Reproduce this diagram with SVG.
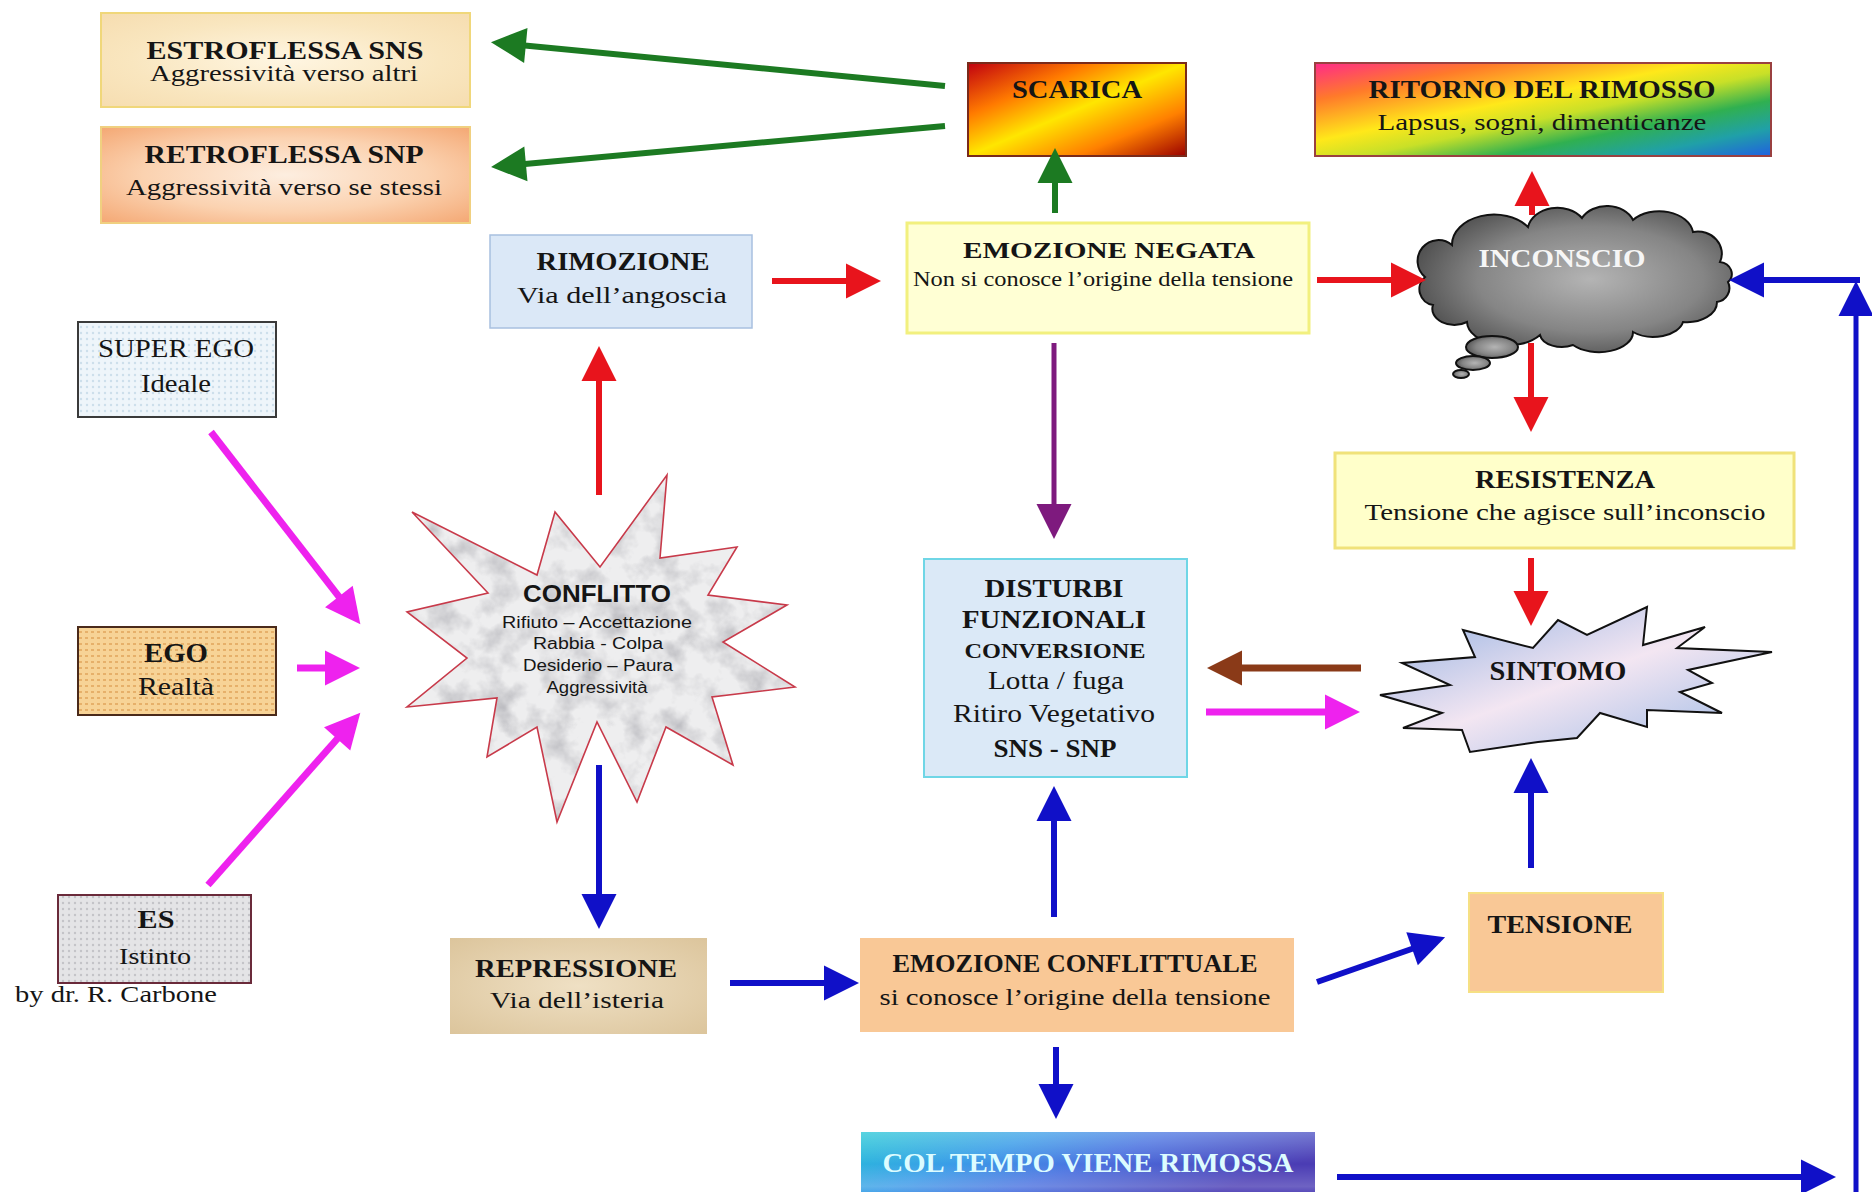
<svg xmlns="http://www.w3.org/2000/svg" width="1872" height="1192" viewBox="0 0 1872 1192">
<style>
.t{font-family:"Liberation Serif","Times New Roman",serif;font-weight:bold;font-size:25px;text-anchor:middle;fill:#151515}
.s{font-family:"Liberation Serif","Times New Roman",serif;font-size:22px;text-anchor:middle;fill:#151515}
.c{font-family:"Liberation Sans",Arial,sans-serif;font-size:16px;text-anchor:middle;fill:#151515}
.ln{fill:none;stroke-width:6;stroke-linecap:butt}
.red{stroke:#e8141c;marker-end:url(#ah-red)}
.grn{stroke:#1c7a22;marker-end:url(#ah-grn)}
.blu{stroke:#1010c8;marker-end:url(#ah-blu)}
.mag{stroke:#ee22ee;stroke-width:7;marker-end:url(#ah-mag)}
.pur{stroke:#7e1a7e;stroke-width:5;marker-end:url(#ah-pur)}
.brn{stroke:#8a3a18;stroke-width:7;marker-end:url(#ah-brn)}
</style>
<defs>
<marker id="ah-red" markerUnits="userSpaceOnUse" markerWidth="36" markerHeight="36" refX="1" refY="18" orient="auto" overflow="visible"><path d="M0,0.5 L35,18 L0,35.5 Z" fill="#e8141c"/></marker>
<marker id="ah-grn" markerUnits="userSpaceOnUse" markerWidth="36" markerHeight="36" refX="1" refY="18" orient="auto" overflow="visible"><path d="M0,0.5 L35,18 L0,35.5 Z" fill="#1c7a22"/></marker>
<marker id="ah-blu" markerUnits="userSpaceOnUse" markerWidth="36" markerHeight="36" refX="1" refY="18" orient="auto" overflow="visible"><path d="M0,0.5 L35,18 L0,35.5 Z" fill="#1010c8"/></marker>
<marker id="ah-mag" markerUnits="userSpaceOnUse" markerWidth="36" markerHeight="36" refX="1" refY="18" orient="auto" overflow="visible"><path d="M0,0.5 L35,18 L0,35.5 Z" fill="#ee22ee"/></marker>
<marker id="ah-pur" markerUnits="userSpaceOnUse" markerWidth="36" markerHeight="36" refX="1" refY="18" orient="auto" overflow="visible"><path d="M0,0.5 L35,18 L0,35.5 Z" fill="#7e1a7e"/></marker>
<marker id="ah-brn" markerUnits="userSpaceOnUse" markerWidth="36" markerHeight="36" refX="1" refY="18" orient="auto" overflow="visible"><path d="M0,0.5 L35,18 L0,35.5 Z" fill="#8a3a18"/></marker>
<radialGradient id="gEstro" cx="0.5" cy="0.5" r="0.7"><stop offset="0" stop-color="#fff6e2"/><stop offset="0.6" stop-color="#f9e6bf"/><stop offset="1" stop-color="#f6ddb0"/></radialGradient>
<radialGradient id="gRetro" cx="0.5" cy="0.5" r="0.7"><stop offset="0" stop-color="#fdeee0"/><stop offset="0.55" stop-color="#fbd2b0"/><stop offset="1" stop-color="#f4a874"/></radialGradient>
<linearGradient id="gScarica" x1="0" y1="0" x2="1" y2="1"><stop offset="0" stop-color="#c00010"/><stop offset="0.28" stop-color="#ff7a00"/><stop offset="0.5" stop-color="#ffe600"/><stop offset="0.75" stop-color="#ff8000"/><stop offset="1" stop-color="#9a0000"/></linearGradient>
<linearGradient id="gRitorno" x1="0" y1="0" x2="1" y2="1"><stop offset="0" stop-color="#ff2a8a"/><stop offset="0.2" stop-color="#ff7a2a"/><stop offset="0.42" stop-color="#ffe81a"/><stop offset="0.55" stop-color="#c8e028"/><stop offset="0.7" stop-color="#30b050"/><stop offset="0.85" stop-color="#20a0a8"/><stop offset="1" stop-color="#2060e0"/></linearGradient>
<linearGradient id="gCol" x1="0" y1="0" x2="1" y2="0.4"><stop offset="0" stop-color="#22c6d6"/><stop offset="0.35" stop-color="#3a9ce8"/><stop offset="0.6" stop-color="#4a72e0"/><stop offset="1" stop-color="#4a3cb4"/></linearGradient>
<linearGradient id="gColHi" x1="0" y1="0" x2="0" y2="1"><stop offset="0" stop-color="#ffffff" stop-opacity="0.25"/><stop offset="0.5" stop-color="#ffffff" stop-opacity="0"/><stop offset="0.85" stop-color="#ffffff" stop-opacity="0.2"/><stop offset="1" stop-color="#ffffff" stop-opacity="0"/></linearGradient>
<linearGradient id="gSint" x1="0" y1="0" x2="1" y2="1"><stop offset="0" stop-color="#8eaee0"/><stop offset="0.5" stop-color="#f3e6f2"/><stop offset="1" stop-color="#96b6e4"/></linearGradient>
<radialGradient id="gCloud" cx="0.55" cy="0.5" r="0.6"><stop offset="0" stop-color="#b4b4b4"/><stop offset="0.6" stop-color="#858585"/><stop offset="1" stop-color="#4a4a4a"/></radialGradient>
<radialGradient id="gRep" cx="0.5" cy="0.5" r="0.7"><stop offset="0" stop-color="#efe0c4"/><stop offset="1" stop-color="#dcc59c"/></radialGradient>
<pattern id="pBlue" width="6" height="6" patternUnits="userSpaceOnUse"><rect width="6" height="6" fill="#eef5fa"/><circle cx="3" cy="3" r="1.2" fill="#cddfeb"/></pattern>
<pattern id="pEgo" width="6" height="6" patternUnits="userSpaceOnUse"><rect width="6" height="6" fill="#f7d396"/><rect x="1" y="1" width="3" height="2" fill="#e6b06a"/></pattern>
<pattern id="pEs" width="6" height="6" patternUnits="userSpaceOnUse"><rect width="6" height="6" fill="#e4e4e6"/><circle cx="3" cy="3" r="1.2" fill="#c4c4c8"/></pattern>
<filter id="marble" filterUnits="objectBoundingBox" x="0" y="0" width="1" height="1">
<feTurbulence type="fractalNoise" baseFrequency="0.035" numOctaves="4" seed="7" result="n"/>
<feColorMatrix in="n" type="matrix" values="0 0 0 0 0.45  0 0 0 0 0.45  0 0 0 0 0.48  1.8 0 0 0 -0.75" result="c"/>
<feComposite in="c" in2="SourceGraphic" operator="in"/>
</filter>
</defs>
<rect width="1872" height="1192" fill="#ffffff"/>

<g id="estroflessa">
<rect x="101" y="13" width="369" height="94" fill="url(#gEstro)" stroke="#f0d77a" stroke-width="2"/>
<text class="t" x="285" y="59" style="font-size:25px" textLength="277" lengthAdjust="spacingAndGlyphs">ESTROFLESSA  SNS</text>
<text class="s" x="284" y="81" style="font-size:23px" textLength="268" lengthAdjust="spacingAndGlyphs">Aggressività verso altri</text>
</g>
<g id="retroflessa">
<rect x="101" y="127" width="369" height="96" fill="url(#gRetro)" stroke="#f0d080" stroke-width="2"/>
<text class="t" x="284" y="163" style="font-size:25px" textLength="279" lengthAdjust="spacingAndGlyphs">RETROFLESSA  SNP</text>
<text class="s" x="284" y="195" style="font-size:23px" textLength="316" lengthAdjust="spacingAndGlyphs">Aggressività verso se stessi</text>
</g>
<g id="scarica">
<rect x="968" y="63" width="218" height="93" fill="url(#gScarica)" stroke="#7a2a1a" stroke-width="2"/>
<text class="t" x="1077" y="98" style="font-size:25px" textLength="130" lengthAdjust="spacingAndGlyphs">SCARICA</text>
</g>
<g id="ritorno">
<rect x="1315" y="63" width="456" height="93" fill="url(#gRitorno)" stroke="#9a4040" stroke-width="2"/>
<text class="t" x="1542" y="98" style="font-size:25px" textLength="347" lengthAdjust="spacingAndGlyphs">RITORNO DEL RIMOSSO</text>
<text class="s" x="1542" y="130" style="font-size:23px" textLength="329" lengthAdjust="spacingAndGlyphs">Lapsus, sogni, dimenticanze</text>
</g>
<g id="rimozione">
<rect x="490" y="235" width="262" height="93" fill="#dbe8f7" stroke="#a8c0e0" stroke-width="1.5"/>
<text class="t" x="623" y="270" style="font-size:25px" textLength="173" lengthAdjust="spacingAndGlyphs">RIMOZIONE</text>
<text class="s" x="622" y="303" style="font-size:24px" textLength="210" lengthAdjust="spacingAndGlyphs">Via dell’angoscia</text>
</g>
<g id="emozione-negata">
<rect x="907" y="223" width="402" height="110" fill="#ffffd4" stroke="#f2f07e" stroke-width="3"/>
<text class="t" x="1109" y="258" style="font-size:24px" textLength="292" lengthAdjust="spacingAndGlyphs">EMOZIONE NEGATA</text>
<text class="s" x="1103" y="286" style="font-size:20px" textLength="380" lengthAdjust="spacingAndGlyphs">Non si conosce l’origine della tensione</text>
</g>
<g id="inconscio">
<path d="M1425,277 A18,18 0 0 1 1452,245 A42,30 0 0 1 1528,227 A30,24 0 0 1 1582,218 A28,22 0 0 1 1633,220 A34,24 0 0 1 1693,232 A24,22 0 0 1 1720,262 A14,12 0 0 1 1728,282 A14,14 0 0 1 1717,302 A30,20 0 0 1 1683,322 A30,18 0 0 1 1633,332 A34,20 0 0 1 1573,345 A22,14 0 0 1 1540,335 A40,24 0 0 1 1467,322 A22,16 0 0 1 1433,305 A16,16 0 0 1 1425,277 Z" fill="url(#gCloud)" stroke="#111" stroke-width="2"/>
<ellipse cx="1492" cy="347" rx="26" ry="11" fill="url(#gCloud)" stroke="#111" stroke-width="2"/>
<ellipse cx="1473" cy="363" rx="17" ry="7" fill="url(#gCloud)" stroke="#111" stroke-width="2"/>
<ellipse cx="1461" cy="374" rx="8" ry="4" fill="url(#gCloud)" stroke="#111" stroke-width="2"/>
<text class="t" x="1562" y="267" style="font-size:26px;fill:#f6f6f6" textLength="167" lengthAdjust="spacingAndGlyphs">INCONSCIO</text>
</g>
<g id="super-ego">
<rect x="78" y="322" width="198" height="95" fill="url(#pBlue)" stroke="#3a3a3a" stroke-width="2"/>
<text class="s" x="176" y="357" style="font-size:25px" textLength="156" lengthAdjust="spacingAndGlyphs">SUPER EGO</text>
<text class="s" x="176" y="392" style="font-size:25px" textLength="70" lengthAdjust="spacingAndGlyphs">Ideale</text>
</g>
<g id="ego">
<rect x="78" y="627" width="198" height="88" fill="url(#pEgo)" stroke="#4a2a1a" stroke-width="2"/>
<text class="t" x="176" y="662" style="font-size:27px" textLength="64" lengthAdjust="spacingAndGlyphs">EGO</text>
<text class="s" x="176" y="695" style="font-size:25px" textLength="76" lengthAdjust="spacingAndGlyphs">Realtà</text>
</g>
<g id="es">
<rect x="58" y="895" width="193" height="88" fill="url(#pEs)" stroke="#6a2a3a" stroke-width="2"/>
<text class="t" x="156" y="928" style="font-size:25px" textLength="37" lengthAdjust="spacingAndGlyphs">ES</text>
<text class="s" x="155" y="964" style="font-size:23px" textLength="72" lengthAdjust="spacingAndGlyphs">Istinto</text>
</g>
<g id="credit">
<text class="s" x="15" y="1002" style="font-size:23px;text-anchor:start" textLength="202" lengthAdjust="spacingAndGlyphs">by dr. R. Carbone</text>
</g>
<g id="conflitto">
<polygon points="667,475 660,558 737,547 708,595 787,605 723,642 795,687 712,697 733,765 666,727 637,802 597,722 557,822 537,727 487,757 497,698 407,707 467,658 407,612 488,593 412,512 537,575 555,512 600,567" fill="#eeeeef"/>
<polygon points="667,475 660,558 737,547 708,595 787,605 723,642 795,687 712,697 733,765 666,727 637,802 597,722 557,822 537,727 487,757 497,698 407,707 467,658 407,612 488,593 412,512 537,575 555,512 600,567" fill="#ffffff" filter="url(#marble)"/>
<polygon points="667,475 660,558 737,547 708,595 787,605 723,642 795,687 712,697 733,765 666,727 637,802 597,722 557,822 537,727 487,757 497,698 407,707 467,658 407,612 488,593 412,512 537,575 555,512 600,567" fill="none" stroke="#c83a4a" stroke-width="1.6"/>
<text class="c" x="597" y="602" style="font-size:23px;font-weight:bold" textLength="148" lengthAdjust="spacingAndGlyphs">CONFLITTO</text>
<text class="c" x="597" y="628" style="font-size:16px" textLength="190" lengthAdjust="spacingAndGlyphs">Rifiuto  –  Accettazione</text>
<text class="c" x="598" y="649" style="font-size:16px" textLength="130" lengthAdjust="spacingAndGlyphs">Rabbia  - Colpa</text>
<text class="c" x="598" y="671" style="font-size:16px" textLength="150" lengthAdjust="spacingAndGlyphs">Desiderio – Paura</text>
<text class="c" x="597" y="693" style="font-size:16px" textLength="101" lengthAdjust="spacingAndGlyphs">Aggressività</text>
</g>
<g id="disturbi">
<rect x="924" y="559" width="263" height="218" fill="#dbe9f7" stroke="#6fd6e6" stroke-width="2"/>
<text class="t" x="1054" y="597" style="font-size:25px" textLength="139" lengthAdjust="spacingAndGlyphs">DISTURBI</text>
<text class="t" x="1054" y="628" style="font-size:25px" textLength="184" lengthAdjust="spacingAndGlyphs">FUNZIONALI</text>
<text class="t" x="1055" y="658" style="font-size:20px" textLength="181" lengthAdjust="spacingAndGlyphs">CONVERSIONE</text>
<text class="s" x="1056" y="689" style="font-size:25px" textLength="136" lengthAdjust="spacingAndGlyphs">Lotta / fuga</text>
<text class="s" x="1054" y="722" style="font-size:25px" textLength="202" lengthAdjust="spacingAndGlyphs">Ritiro Vegetativo</text>
<text class="t" x="1055" y="757" style="font-size:25px" textLength="123" lengthAdjust="spacingAndGlyphs">SNS - SNP</text>
</g>
<g id="resistenza">
<rect x="1335" y="453" width="459" height="95" fill="#ffffca" stroke="#f0e27a" stroke-width="3"/>
<text class="t" x="1565" y="488" style="font-size:25px" textLength="180" lengthAdjust="spacingAndGlyphs">RESISTENZA</text>
<text class="s" x="1565" y="520" style="font-size:24px" textLength="401" lengthAdjust="spacingAndGlyphs">Tensione che agisce sull’inconscio</text>
</g>
<g id="sintomo">
<polygon points="1647,607 1643,645 1705,627 1677,648 1772,652 1688,670 1712,683 1680,692 1722,713 1647,710 1647,727 1600,713 1577,738 1538,742 1470,752 1462,730 1403,728 1442,713 1380,695 1450,685 1402,663 1475,657 1463,630 1533,648 1558,620 1587,635" fill="url(#gSint)" stroke="#111" stroke-width="2"/>
<text class="t" x="1558" y="680" style="font-size:28px" textLength="137" lengthAdjust="spacingAndGlyphs">SINTOMO</text>
</g>
<g id="repressione">
<rect x="450" y="938" width="257" height="96" fill="url(#gRep)"/>
<text class="t" x="576" y="977" style="font-size:25px" textLength="202" lengthAdjust="spacingAndGlyphs">REPRESSIONE</text>
<text class="s" x="577" y="1008" style="font-size:24px" textLength="174" lengthAdjust="spacingAndGlyphs">Via dell’isteria</text>
</g>
<g id="emozione-conflittuale">
<rect x="860" y="938" width="434" height="94" fill="#f9c896"/>
<text class="t" x="1075" y="972" style="font-size:25px" textLength="365" lengthAdjust="spacingAndGlyphs">EMOZIONE CONFLITTUALE</text>
<text class="s" x="1075" y="1005" style="font-size:23px" textLength="391" lengthAdjust="spacingAndGlyphs">si conosce l’origine della tensione</text>
</g>
<g id="tensione">
<rect x="1469" y="893" width="194" height="99" fill="#f9c896" stroke="#f6e084" stroke-width="2"/>
<text class="t" x="1560" y="933" style="font-size:26px" textLength="145" lengthAdjust="spacingAndGlyphs">TENSIONE</text>
</g>
<g id="col-tempo">
<rect x="861" y="1132" width="454" height="64" fill="url(#gCol)"/>
<rect x="861" y="1132" width="454" height="64" fill="url(#gColHi)"/>
<text class="t" x="1088" y="1172" style="font-size:27px;fill:#dcfcff" textLength="411" lengthAdjust="spacingAndGlyphs">COL TEMPO VIENE RIMOSSA</text>
</g>

<g id="connectors">
<line class="ln red" x1="599" y1="495" x2="599" y2="380"/>
<line class="ln red" x1="772" y1="281" x2="847" y2="281"/>
<line class="ln red" x1="1317" y1="280" x2="1392" y2="280"/>
<line class="ln red" x1="1532" y1="215" x2="1532" y2="205"/>
<line class="ln red" x1="1531" y1="343" x2="1531" y2="398"/>
<line class="ln red" x1="1531" y1="558" x2="1531" y2="592"/>
<line class="ln grn" x1="945" y1="86" x2="524.8" y2="45.4"/>
<line class="ln grn" x1="945" y1="126" x2="524.9" y2="163.9"/>
<line class="ln grn" x1="1055" y1="213" x2="1055" y2="182"/>
<line class="ln pur" x1="1054" y1="343" x2="1054" y2="505"/>
<line class="ln blu" x1="599" y1="765" x2="599" y2="895"/>
<line class="ln blu" x1="730" y1="983" x2="825" y2="983"/>
<line class="ln blu" x1="1054" y1="917" x2="1054" y2="820"/>
<line class="ln blu" x1="1317" y1="982" x2="1413" y2="948.5"/>
<line class="ln blu" x1="1531" y1="868" x2="1531" y2="792"/>
<line class="ln blu" x1="1056" y1="1047" x2="1056" y2="1085"/>
<line class="ln blu" x1="1337" y1="1177" x2="1802" y2="1177"/>
<line class="ln blu" x1="1856" y1="1192" x2="1856" y2="315" style="stroke-width:5"/>
<line class="ln blu" x1="1860" y1="280" x2="1763" y2="280"/>
<line class="ln mag" x1="211" y1="432" x2="339.5" y2="597.4"/>
<line class="ln mag" x1="297" y1="668" x2="326" y2="668"/>
<line class="ln mag" x1="208" y1="885" x2="337.8" y2="738.2"/>
<line class="ln mag" x1="1206" y1="712" x2="1326" y2="712"/>
<line class="ln brn" x1="1361" y1="668" x2="1241" y2="668"/>
</g>
</svg>
